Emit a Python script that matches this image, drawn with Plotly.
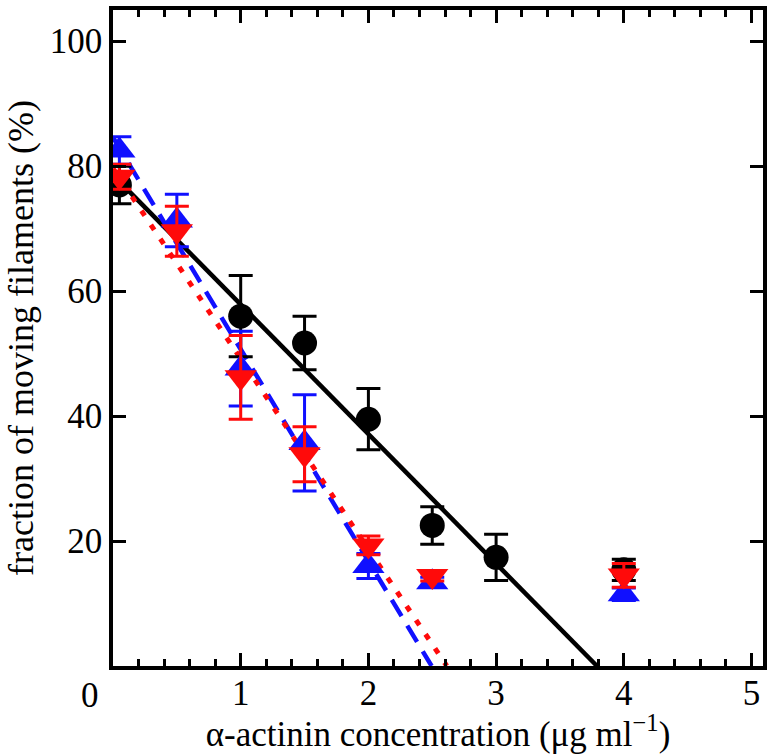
import plotly.graph_objects as go

# alpha-actinin concentration (ug/ml)
conc = [0.05, 1.0, 1.5, 2.0, 2.5, 3.0, 4.0]
conc_tri = [0.05, 0.5, 1.0, 1.5, 2.0, 2.5, 4.0]

black_vals = [77.0, 56.0, 51.7, 39.5, 22.5, 17.4, 15.4]
black_err = [3.0, 6.5, 4.3, 4.9, 3.0, 3.7, 1.7]

blue_vals = [82.5, 71.3, 47.6, 35.7, 16.0, 13.4, 11.5]
blue_err = [2.2, 4.2, 6.0, 7.7, 2.0, 0.8, 1.0]

red_vals = [78.3, 69.6, 46.2, 33.9, 19.3, 14.4, 14.5]
red_err = [2.0, 4.0, 6.7, 4.4, 1.5, 0.8, 1.9]

# linear fits (end points)
fit_black_x = [0.0, 3.79]
fit_black_y = [78.6, 0.0]
fit_blue_x = [0.0, 2.495]
fit_blue_y = [84.6, 0.0]
fit_red_x = [0.0, 2.614]
fit_red_y = [79.65, 0.0]

x_ticks = [1, 2, 3, 4, 5]
y_ticks = [20, 40, 60, 80, 100]

FONT = "Liberation Serif, Times New Roman, serif"
FS = 35
BLUE = "#1010ff"
RED = "#ff0a0a"

fig = go.Figure()

fig.add_trace(go.Scatter(x=fit_black_x, y=fit_black_y, mode="lines",
                         line=dict(color="black", width=4.5), showlegend=False))
fig.add_trace(go.Scatter(x=fit_blue_x, y=fit_blue_y, mode="lines",
                         line=dict(color=BLUE, width=4.5, dash="19px,11px"), showlegend=False))
fig.add_trace(go.Scatter(x=fit_red_x, y=fit_red_y, mode="lines",
                         line=dict(color=RED, width=5, dash="6px,11px"), showlegend=False))

fig.add_trace(go.Scatter(x=conc, y=black_vals, mode="markers",
                         marker=dict(symbol="circle", size=25, color="black"),
                         error_y=dict(type="data", array=black_err, color="black",
                                      thickness=3, width=12),
                         showlegend=False))
fig.add_trace(go.Scatter(x=conc_tri, y=blue_vals, mode="markers",
                         marker=dict(symbol="triangle-up", size=28, color=BLUE),
                         error_y=dict(type="data", array=blue_err, color=BLUE,
                                      thickness=3, width=12),
                         showlegend=False))
fig.add_trace(go.Scatter(x=conc_tri, y=red_vals, mode="markers",
                         marker=dict(symbol="triangle-down", size=28, color=RED),
                         error_y=dict(type="data", array=red_err, color=RED,
                                      thickness=3, width=12),
                         showlegend=False))

fig.update_layout(
    width=773, height=754,
    margin=dict(l=113, r=6, t=6, b=88),
    paper_bgcolor="white", plot_bgcolor="white",
    font=dict(family=FONT, size=FS, color="black"),
    xaxis=dict(
        range=[0, 5.09], tickvals=x_ticks, ticktext=[str(v) for v in x_ticks],
        ticks="inside", ticklen=13, tickwidth=3, tickcolor="black",
        minor=dict(dtick=0.2, tick0=0, ticks="inside", ticklen=7, tickwidth=3, tickcolor="black"),
        showline=True, linewidth=3.5, linecolor="black", mirror="allticks",
        showgrid=False, zeroline=False,
        tickfont=dict(family=FONT, size=FS), ticklabelstandoff=-7,
        title=dict(text="α-actinin concentration (μg ml<sup>−1</sup>)",
                   font=dict(family=FONT, size=FS), standoff=6),
    ),
    yaxis=dict(
        range=[0, 105], tickvals=y_ticks, ticktext=[str(v) for v in y_ticks],
        ticks="inside", ticklen=13, tickwidth=3, tickcolor="black",
        showline=True, linewidth=3.5, linecolor="black", mirror="allticks",
        showgrid=False, zeroline=False,
        tickfont=dict(family=FONT, size=FS),
        title=dict(text="fraction of moving filaments (%)",
                   font=dict(family=FONT, size=36), standoff=6),
    ),
    annotations=[dict(text="0", x=-0.036, y=-0.012, xref="paper", yref="paper",
                      xanchor="center", yanchor="top", showarrow=False,
                      font=dict(family=FONT, size=FS))],
)

fig.write_html("out.html", config={"displayModeBar": False},
               post_script="document.body.style.margin='0px';")
